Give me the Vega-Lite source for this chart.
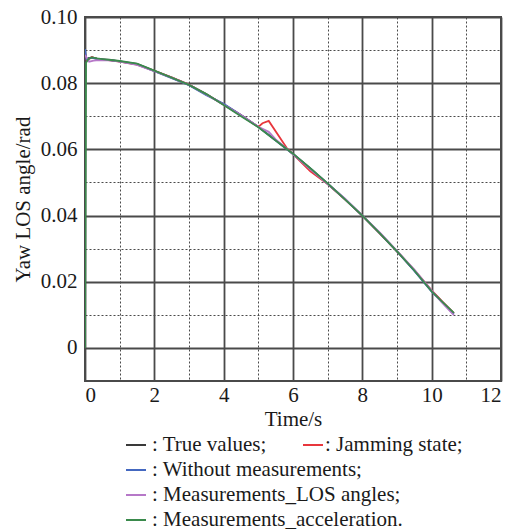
{
  "$schema": "https://vega.github.io/schema/vega-lite/v6.json",
  "autosize": "none",
  "width": 416,
  "height": 364,
  "padding": {"left": 85, "top": 17, "right": 10, "bottom": 148},
  "background": "white",
  "config": {
    "font": "Liberation Serif, Times New Roman, DejaVu Serif, serif",
    "view": {"stroke": "#4a4a4a", "strokeWidth": 2},
    "axis": {
      "labelFont": "Liberation Serif, Times New Roman, DejaVu Serif, serif",
      "titleFont": "Liberation Serif, Times New Roman, DejaVu Serif, serif",
      "labelColor": "#1a1a1a",
      "titleColor": "#1a1a1a",
      "titleFontWeight": "normal",
      "ticks": false,
      "domain": false
    },
    "legend": {
      "labelFont": "Liberation Serif, Times New Roman, DejaVu Serif, serif",
      "labelColor": "#1a1a1a"
    }
  },
  "data": {
    "values": [
      {"s": "True values", "t": 0, "v": 0.0870},
      {"s": "True values", "t": 0.1, "v": 0.0876},
      {"s": "True values", "t": 0.2, "v": 0.0878},
      {"s": "True values", "t": 0.35, "v": 0.0874},
      {"s": "True values", "t": 0.5, "v": 0.0872},
      {"s": "True values", "t": 0.75, "v": 0.0870},
      {"s": "True values", "t": 1.0, "v": 0.0866},
      {"s": "True values", "t": 1.5, "v": 0.0858},
      {"s": "True values", "t": 2.0, "v": 0.0837},
      {"s": "True values", "t": 2.5, "v": 0.0817},
      {"s": "True values", "t": 3.0, "v": 0.0795},
      {"s": "True values", "t": 3.5, "v": 0.0767},
      {"s": "True values", "t": 4.0, "v": 0.0735},
      {"s": "True values", "t": 4.5, "v": 0.0703},
      {"s": "True values", "t": 5.0, "v": 0.0668},
      {"s": "True values", "t": 5.5, "v": 0.0628},
      {"s": "True values", "t": 6.0, "v": 0.0586},
      {"s": "True values", "t": 6.5, "v": 0.0542},
      {"s": "True values", "t": 7.0, "v": 0.0496},
      {"s": "True values", "t": 7.5, "v": 0.0449},
      {"s": "True values", "t": 8.0, "v": 0.0400},
      {"s": "True values", "t": 8.5, "v": 0.0347},
      {"s": "True values", "t": 9.0, "v": 0.0292},
      {"s": "True values", "t": 9.5, "v": 0.0234},
      {"s": "True values", "t": 10.0, "v": 0.0172},
      {"s": "True values", "t": 10.3, "v": 0.0140},
      {"s": "True values", "t": 10.64, "v": 0.0104},

      {"s": "Jamming state", "t": 0, "v": 0.0892},
      {"s": "Jamming state", "t": 0.05, "v": 0.0868},
      {"s": "Jamming state", "t": 0.2, "v": 0.0879},
      {"s": "Jamming state", "t": 0.35, "v": 0.0873},
      {"s": "Jamming state", "t": 0.5, "v": 0.0872},
      {"s": "Jamming state", "t": 1.0, "v": 0.0865},
      {"s": "Jamming state", "t": 1.5, "v": 0.0856},
      {"s": "Jamming state", "t": 2.0, "v": 0.0837},
      {"s": "Jamming state", "t": 2.5, "v": 0.0818},
      {"s": "Jamming state", "t": 3.0, "v": 0.0796},
      {"s": "Jamming state", "t": 3.5, "v": 0.0766},
      {"s": "Jamming state", "t": 4.0, "v": 0.0736},
      {"s": "Jamming state", "t": 4.5, "v": 0.0704},
      {"s": "Jamming state", "t": 5.0, "v": 0.0668},
      {"s": "Jamming state", "t": 5.12, "v": 0.0679},
      {"s": "Jamming state", "t": 5.3, "v": 0.0686},
      {"s": "Jamming state", "t": 5.82, "v": 0.0604},
      {"s": "Jamming state", "t": 6.0, "v": 0.0586},
      {"s": "Jamming state", "t": 6.5, "v": 0.0534},
      {"s": "Jamming state", "t": 7.0, "v": 0.0495},
      {"s": "Jamming state", "t": 7.5, "v": 0.0449},
      {"s": "Jamming state", "t": 8.0, "v": 0.0400},
      {"s": "Jamming state", "t": 8.5, "v": 0.0346},
      {"s": "Jamming state", "t": 9.0, "v": 0.0292},
      {"s": "Jamming state", "t": 9.5, "v": 0.0235},
      {"s": "Jamming state", "t": 10.0, "v": 0.0174},
      {"s": "Jamming state", "t": 10.3, "v": 0.0141},
      {"s": "Jamming state", "t": 10.64, "v": 0.0105},

      {"s": "Without measurements", "t": 0, "v": 0.0903},
      {"s": "Without measurements", "t": 0.04, "v": 0.0872},
      {"s": "Without measurements", "t": 0.2, "v": 0.0877},
      {"s": "Without measurements", "t": 0.35, "v": 0.0873},
      {"s": "Without measurements", "t": 0.5, "v": 0.0872},
      {"s": "Without measurements", "t": 1.0, "v": 0.0866},
      {"s": "Without measurements", "t": 1.5, "v": 0.0857},
      {"s": "Without measurements", "t": 2.0, "v": 0.0836},
      {"s": "Without measurements", "t": 2.5, "v": 0.0815},
      {"s": "Without measurements", "t": 3.0, "v": 0.0794},
      {"s": "Without measurements", "t": 3.5, "v": 0.0764},
      {"s": "Without measurements", "t": 4.0, "v": 0.0738},
      {"s": "Without measurements", "t": 4.5, "v": 0.0704},
      {"s": "Without measurements", "t": 5.0, "v": 0.0668},
      {"s": "Without measurements", "t": 5.5, "v": 0.0627},
      {"s": "Without measurements", "t": 6.0, "v": 0.0586},
      {"s": "Without measurements", "t": 6.5, "v": 0.0542},
      {"s": "Without measurements", "t": 7.0, "v": 0.0496},
      {"s": "Without measurements", "t": 7.5, "v": 0.0450},
      {"s": "Without measurements", "t": 8.0, "v": 0.0400},
      {"s": "Without measurements", "t": 8.5, "v": 0.0347},
      {"s": "Without measurements", "t": 9.0, "v": 0.0292},
      {"s": "Without measurements", "t": 9.5, "v": 0.0233},
      {"s": "Without measurements", "t": 10.0, "v": 0.0170},
      {"s": "Without measurements", "t": 10.3, "v": 0.0138},
      {"s": "Without measurements", "t": 10.64, "v": 0.0103},

      {"s": "Measurements_LOS angles", "t": 0, "v": 0.0885},
      {"s": "Measurements_LOS angles", "t": 0.12, "v": 0.0865},
      {"s": "Measurements_LOS angles", "t": 0.25, "v": 0.0868},
      {"s": "Measurements_LOS angles", "t": 0.4, "v": 0.0870},
      {"s": "Measurements_LOS angles", "t": 0.75, "v": 0.0869},
      {"s": "Measurements_LOS angles", "t": 1.0, "v": 0.0865},
      {"s": "Measurements_LOS angles", "t": 1.5, "v": 0.0855},
      {"s": "Measurements_LOS angles", "t": 2.0, "v": 0.0836},
      {"s": "Measurements_LOS angles", "t": 2.5, "v": 0.0817},
      {"s": "Measurements_LOS angles", "t": 3.0, "v": 0.0795},
      {"s": "Measurements_LOS angles", "t": 3.5, "v": 0.0766},
      {"s": "Measurements_LOS angles", "t": 4.0, "v": 0.0735},
      {"s": "Measurements_LOS angles", "t": 4.5, "v": 0.0703},
      {"s": "Measurements_LOS angles", "t": 5.0, "v": 0.0668},
      {"s": "Measurements_LOS angles", "t": 5.3, "v": 0.0653},
      {"s": "Measurements_LOS angles", "t": 5.5, "v": 0.0630},
      {"s": "Measurements_LOS angles", "t": 6.0, "v": 0.0586},
      {"s": "Measurements_LOS angles", "t": 6.5, "v": 0.0540},
      {"s": "Measurements_LOS angles", "t": 7.0, "v": 0.0496},
      {"s": "Measurements_LOS angles", "t": 7.5, "v": 0.0451},
      {"s": "Measurements_LOS angles", "t": 8.0, "v": 0.0400},
      {"s": "Measurements_LOS angles", "t": 8.5, "v": 0.0349},
      {"s": "Measurements_LOS angles", "t": 9.0, "v": 0.0293},
      {"s": "Measurements_LOS angles", "t": 9.5, "v": 0.0237},
      {"s": "Measurements_LOS angles", "t": 10.0, "v": 0.0173},
      {"s": "Measurements_LOS angles", "t": 10.3, "v": 0.0137},
      {"s": "Measurements_LOS angles", "t": 10.64, "v": 0.0099},

      {"s": "Measurements_acceleration", "t": 0, "v": 0.0},
      {"s": "Measurements_acceleration", "t": 0.03, "v": 0.0862},
      {"s": "Measurements_acceleration", "t": 0.1, "v": 0.0874},
      {"s": "Measurements_acceleration", "t": 0.2, "v": 0.0878},
      {"s": "Measurements_acceleration", "t": 0.35, "v": 0.0875},
      {"s": "Measurements_acceleration", "t": 0.5, "v": 0.0873},
      {"s": "Measurements_acceleration", "t": 0.75, "v": 0.0870},
      {"s": "Measurements_acceleration", "t": 1.0, "v": 0.0867},
      {"s": "Measurements_acceleration", "t": 1.5, "v": 0.0859},
      {"s": "Measurements_acceleration", "t": 2.0, "v": 0.0838},
      {"s": "Measurements_acceleration", "t": 2.5, "v": 0.0817},
      {"s": "Measurements_acceleration", "t": 3.0, "v": 0.0795},
      {"s": "Measurements_acceleration", "t": 3.5, "v": 0.0767},
      {"s": "Measurements_acceleration", "t": 4.0, "v": 0.0734},
      {"s": "Measurements_acceleration", "t": 4.5, "v": 0.0700},
      {"s": "Measurements_acceleration", "t": 5.0, "v": 0.0667},
      {"s": "Measurements_acceleration", "t": 5.5, "v": 0.0627},
      {"s": "Measurements_acceleration", "t": 6.0, "v": 0.0587},
      {"s": "Measurements_acceleration", "t": 6.5, "v": 0.0543},
      {"s": "Measurements_acceleration", "t": 7.0, "v": 0.0497},
      {"s": "Measurements_acceleration", "t": 7.5, "v": 0.0449},
      {"s": "Measurements_acceleration", "t": 8.0, "v": 0.0400},
      {"s": "Measurements_acceleration", "t": 8.5, "v": 0.0347},
      {"s": "Measurements_acceleration", "t": 9.0, "v": 0.0292},
      {"s": "Measurements_acceleration", "t": 9.5, "v": 0.0234},
      {"s": "Measurements_acceleration", "t": 10.0, "v": 0.0171},
      {"s": "Measurements_acceleration", "t": 10.3, "v": 0.0140},
      {"s": "Measurements_acceleration", "t": 10.64, "v": 0.0106}
    ]
  },
  "encoding": {
    "x": {
      "field": "t",
      "type": "quantitative",
      "scale": {"domain": [0, 12], "nice": false, "zero": false},
      "axis": {
        "title": "Time/s",
        "titleFontSize": 21,
        "titlePadding": 3,
        "labelFontSize": 21,
        "labelPadding": 3,
        "values": [0, 1, 2, 3, 4, 5, 6, 7, 8, 9, 10, 11, 12],
        "labelExpr": "datum.value % 2 === 0 ? datum.label : ''",
        "grid": true,
        "gridColor": "#4a4a4a",
        "gridOpacity": 1,
        "gridWidth": {"condition": {"test": "datum.value % 2 !== 0", "value": 1}, "value": 1.8},
        "gridDash": {"condition": {"test": "datum.value % 2 !== 0", "value": [2, 2]}, "value": []}
      }
    },
    "y": {
      "field": "v",
      "type": "quantitative",
      "scale": {"domain": [-0.01, 0.1], "nice": false, "zero": false},
      "axis": {
        "title": "Yaw LOS angle/rad",
        "titleFontSize": 21,
        "titlePadding": 7,
        "labelFontSize": 21,
        "labelPadding": 8,
        "values": [-0.01, 0, 0.01, 0.02, 0.03, 0.04, 0.05, 0.06, 0.07, 0.08, 0.09, 0.1],
        "labelExpr": "(datum.value < -0.001 || round(datum.value * 100) % 2 !== 0) ? '' : (abs(datum.value) < 0.001 ? '0' : format(datum.value, '.2f'))",
        "grid": true,
        "gridColor": "#4a4a4a",
        "gridOpacity": 1,
        "gridWidth": {"condition": {"test": "round(datum.value * 100) % 2 !== 0", "value": 1}, "value": 1.8},
        "gridDash": {"condition": {"test": "round(datum.value * 100) % 2 !== 0", "value": [2, 2]}, "value": []}
      }
    }
  },
  "layer": [
    {
      "transform": [{"filter": "datum.s === 'True values'"}],
      "mark": {"type": "line", "strokeWidth": 1.8, "clip": true},
      "encoding": {
        "color": {
          "field": "s",
          "type": "nominal",
          "scale": {
            "domain": ["True values", "Without measurements", "Measurements_LOS angles", "Measurements_acceleration"],
            "range": ["#3a3a3a", "#4468c0", "#b678c8", "#3a8a4c"]
          },
          "legend": {
            "title": null,
            "orient": "none",
            "direction": "vertical",
            "legendX": 40,
            "legendY": 417,
            "padding": 0,
            "symbolType": "stroke",
            "symbolSize": 400,
            "symbolStrokeWidth": 2,
            "labelFontSize": 21,
            "labelOffset": 5,
            "labelLimit": 0,
            "rowPadding": 4,
            "labelExpr": "datum.label === 'Measurements_acceleration' ? ': ' + datum.label + '.' : ': ' + datum.label + ';'"
          }
        }
      }
    },
    {
      "transform": [{"filter": "datum.s === 'Jamming state'"}],
      "mark": {"type": "line", "strokeWidth": 1.8, "clip": true},
      "encoding": {
        "stroke": {
          "field": "s",
          "type": "nominal",
          "scale": {"domain": ["Jamming state"], "range": ["#e8363c"]},
          "legend": {
            "title": null,
            "orient": "none",
            "direction": "vertical",
            "legendX": 217,
            "legendY": 417,
            "padding": 0,
            "symbolType": "stroke",
            "symbolSize": 400,
            "symbolStrokeWidth": 2,
            "labelFontSize": 21,
            "labelOffset": 1,
            "labelLimit": 0,
            "labelExpr": "': ' + datum.label + ';'"
          }
        }
      }
    },
    {
      "transform": [{"filter": "datum.s !== 'True values' && datum.s !== 'Jamming state'"}],
      "mark": {"type": "line", "strokeWidth": 1.8, "clip": true},
      "encoding": {
        "color": {"field": "s", "type": "nominal"}
      }
    }
  ]
}
